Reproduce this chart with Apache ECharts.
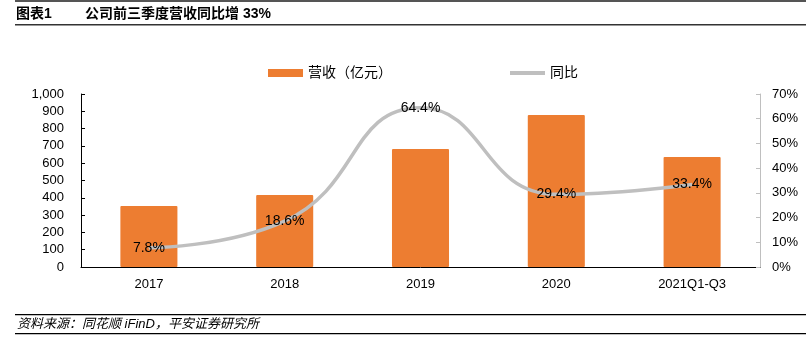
<!DOCTYPE html>
<html><head><meta charset="utf-8">
<script src="https://cdn.jsdelivr.net/npm/echarts@6/dist/echarts.min.js"></script>
<style>html,body{margin:0;padding:0;background:#fff}#c{width:806px;height:357px}</style>
</head><body><div id="c"></div>
<script>
var categories = ['2017','2018','2019','2020','2021Q1-Q3'];
var revenue = [353, 416, 682, 879, 636];
var yoy = [7.8, 18.6, 64.4, 29.4, 33.4];
var leftTicks = [0, 1000, 100];
var rightTicks = [0, 70, 10];

var FONT = '"Liberation Sans","Noto Sans CJK SC",sans-serif';
var chart = echarts.init(document.getElementById('c'));
chart.setOption({
  animation: false,
  textStyle: {fontFamily: FONT},
  grid: {left: 81, right: 46, top: 94, bottom: 90},
  legend: {
    left: 263, top: 61, itemGap: 118, itemWidth: 35, itemHeight: 8,
    textStyle: {fontSize: 14, color: '#000', fontFamily: FONT},
    data: [
      {name: '营收（亿元）', icon: 'rect'},
      {name: '同比', icon: 'path://M0,0 L35,0 L35,4 L0,4 Z'}
    ]
  },
  xAxis: {
    type: 'category', data: categories,
    axisLine: {lineStyle: {color: '#000', width: 1}},
    axisTick: {inside: true, length: 5, lineStyle: {color: '#000'}},
    axisLabel: {color: '#000', fontSize: 13, margin: 11, fontFamily: FONT}
  },
  yAxis: [{
    type: 'value', min: leftTicks[0], max: leftTicks[1], interval: leftTicks[2],
    axisLine: {show: true, lineStyle: {color: '#000'}},
    axisTick: {show: true, inside: true, length: 4, lineStyle: {color: '#000'}},
    splitLine: {show: false},
    axisLabel: {color: '#000', fontSize: 13, margin: 17, fontFamily: FONT,
      formatter: function(v){ return v.toLocaleString('en-US'); }}
  }, {
    type: 'value', min: rightTicks[0], max: rightTicks[1], interval: rightTicks[2],
    position: 'right',
    axisLine: {show: true, lineStyle: {color: '#BFBFBF'}},
    axisTick: {show: true, inside: true, length: 4, lineStyle: {color: '#BFBFBF'}},
    splitLine: {show: false},
    axisLabel: {color: '#000', fontSize: 13, margin: 12, fontFamily: FONT, formatter: '{value}%'}
  }],
  series: [{
    name: '营收（亿元）', type: 'bar', data: revenue, barWidth: '42%',
    itemStyle: {color: '#ED7D31', borderRadius: 1}
  }, {
    name: '同比', type: 'line', yAxisIndex: 1, data: yoy, smooth: 0.5,
    symbol: 'circle', symbolSize: 1, showSymbol: true,
    itemStyle: {color: '#BFBFBF'},
    lineStyle: {color: '#BFBFBF', width: 3.5},
    label: {show: true, position: 'inside', color: '#000', fontSize: 14, fontFamily: FONT,
      formatter: '{c}%'}
  }],
  graphic: [
    {type: 'rect', shape: {x: 15, y: 0, width: 791, height: 2}, style: {fill: '#555'}},
    {type: 'text', left: 16, top: 7, style: {text: '图表1', font: 'bold 14px ' + FONT, fill: '#000'}},
    {type: 'text', left: 85, top: 7, style: {text: '公司前三季度营收同比增 33%', font: 'bold 14px ' + FONT, fill: '#000'}},
    {type: 'rect', shape: {x: 15, y: 24, width: 791, height: 1.5}, style: {fill: '#333'}},
    {type: 'rect', shape: {x: 15, y: 314, width: 791, height: 1.2}, style: {fill: '#000'}},
    {type: 'text', left: 17, top: 318, style: {text: '资料来源：同花顺 iFinD，平安证券研究所', font: 'italic 13px ' + FONT, fill: '#000'}},
    {type: 'rect', shape: {x: 15, y: 333, width: 791, height: 1.2}, style: {fill: '#000'}}
  ]
});
</script></body></html>
